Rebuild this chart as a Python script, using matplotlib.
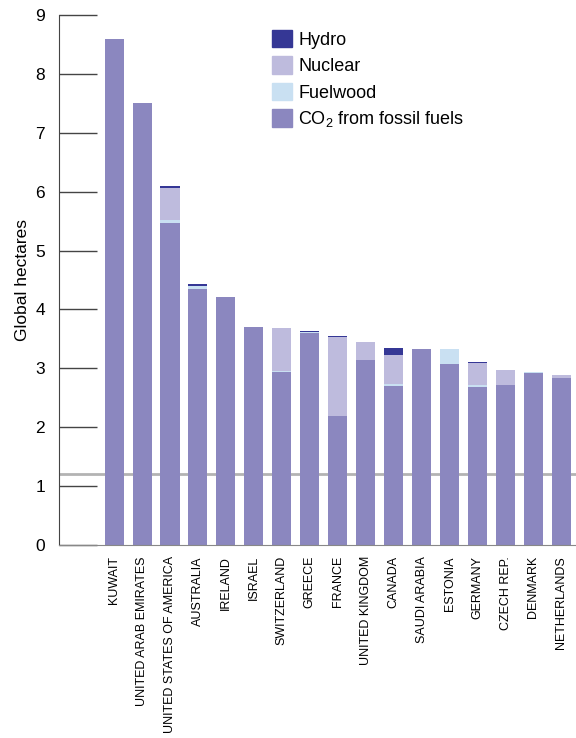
import matplotlib
matplotlib.use("Agg")
import matplotlib.pyplot as plt
import numpy as np
from matplotlib.patches import Patch

plt.rcParams['font.family'] = ['Liberation Sans', 'DejaVu Sans']
plt.rcParams['mathtext.fontset'] = 'custom'
plt.rcParams['mathtext.rm'] = 'Liberation Sans'

countries = ["KUWAIT", "UNITED ARAB EMIRATES", "UNITED STATES OF AMERICA", "AUSTRALIA",
             "IRELAND", "ISRAEL", "SWITZERLAND", "GREECE", "FRANCE", "UNITED KINGDOM",
             "CANADA", "SAUDI ARABIA", "ESTONIA", "GERMANY", "CZECH REP.", "DENMARK",
             "NETHERLANDS"]
co2 = [8.60, 7.50, 5.47, 4.34, 4.21, 3.70, 2.94, 3.60, 2.19, 3.14, 2.70, 3.33, 3.07, 2.68, 2.72, 2.92, 2.84]
fuelwood = [0, 0, 0.05, 0.06, 0, 0, 0.02, 0.02, 0, 0, 0.03, 0, 0.26, 0.03, 0, 0.02, 0]
nuclear = [0, 0, 0.55, 0, 0, 0, 0.72, 0, 1.34, 0.31, 0.50, 0, 0, 0.38, 0.25, 0, 0.05]
hydro = [0, 0, 0.03, 0.03, 0, 0, 0, 0.02, 0.02, 0, 0.11, 0, 0, 0.02, 0, 0, 0]
world_average = 1.2
yticks = [0, 1, 2, 3, 4, 5, 6, 7, 8, 9]

c_hydro = "#353795"
c_nuclear = "#BEBBDD"
c_fuel = "#C9E0F2"
c_co2 = "#8B87BF"

fig = plt.figure(figsize=(5.76, 7.38), dpi=100)
ax = fig.add_axes([59/576, 1 - 545/738, 517/576, 530/738])

x = np.arange(len(countries))
w = 0.68
co2a = np.array(co2); fa = np.array(fuelwood); na = np.array(nuclear); ha = np.array(hydro)
ax.axhline(world_average, color="#b3b3b3", lw=2, zorder=1)
ax.bar(x, co2a, w, color=c_co2, zorder=2)
ax.bar(x, fa, w, bottom=co2a, color=c_fuel, zorder=2)
ax.bar(x, na, w, bottom=co2a + fa, color=c_nuclear, zorder=2)
ax.bar(x, ha, w, bottom=co2a + fa + na, color=c_hydro, zorder=2)

ax.set_xlim(-1.97, 16.52)
ax.set_ylim(0, 9)
ax.set_yticks(yticks)
ax.tick_params(axis='y', direction='in', length=27, width=1, color="#444444",
               labelsize=12.5, pad=10)
ax.set_xticks(x)
ax.set_xticklabels(countries, rotation=90, fontsize=9, va='top', ha='center')
ax.tick_params(axis='x', length=0, pad=8)
for s in ['top', 'right']:
    ax.spines[s].set_visible(False)
ax.spines['left'].set_color("#444444")
ax.spines['bottom'].set_color("#888888")
ax.set_ylabel("Global hectares", fontsize=12.5, labelpad=4)

handles = [Patch(color=c_hydro, label="Hydro"),
           Patch(color=c_nuclear, label="Nuclear"),
           Patch(color=c_fuel, label="Fuelwood"),
           Patch(color=c_co2, label="CO$_\\mathrm{2}$ from fossil fuels")]
fig.legend(handles=handles, loc='upper left', bbox_to_anchor=(272/576, 1 - 30/738),
           frameon=False, fontsize=13, handlelength=1.1, handleheight=1.1,
           labelspacing=0.42, handletextpad=0.35, borderpad=0, borderaxespad=0)

fig.savefig("out.png", dpi=100)
